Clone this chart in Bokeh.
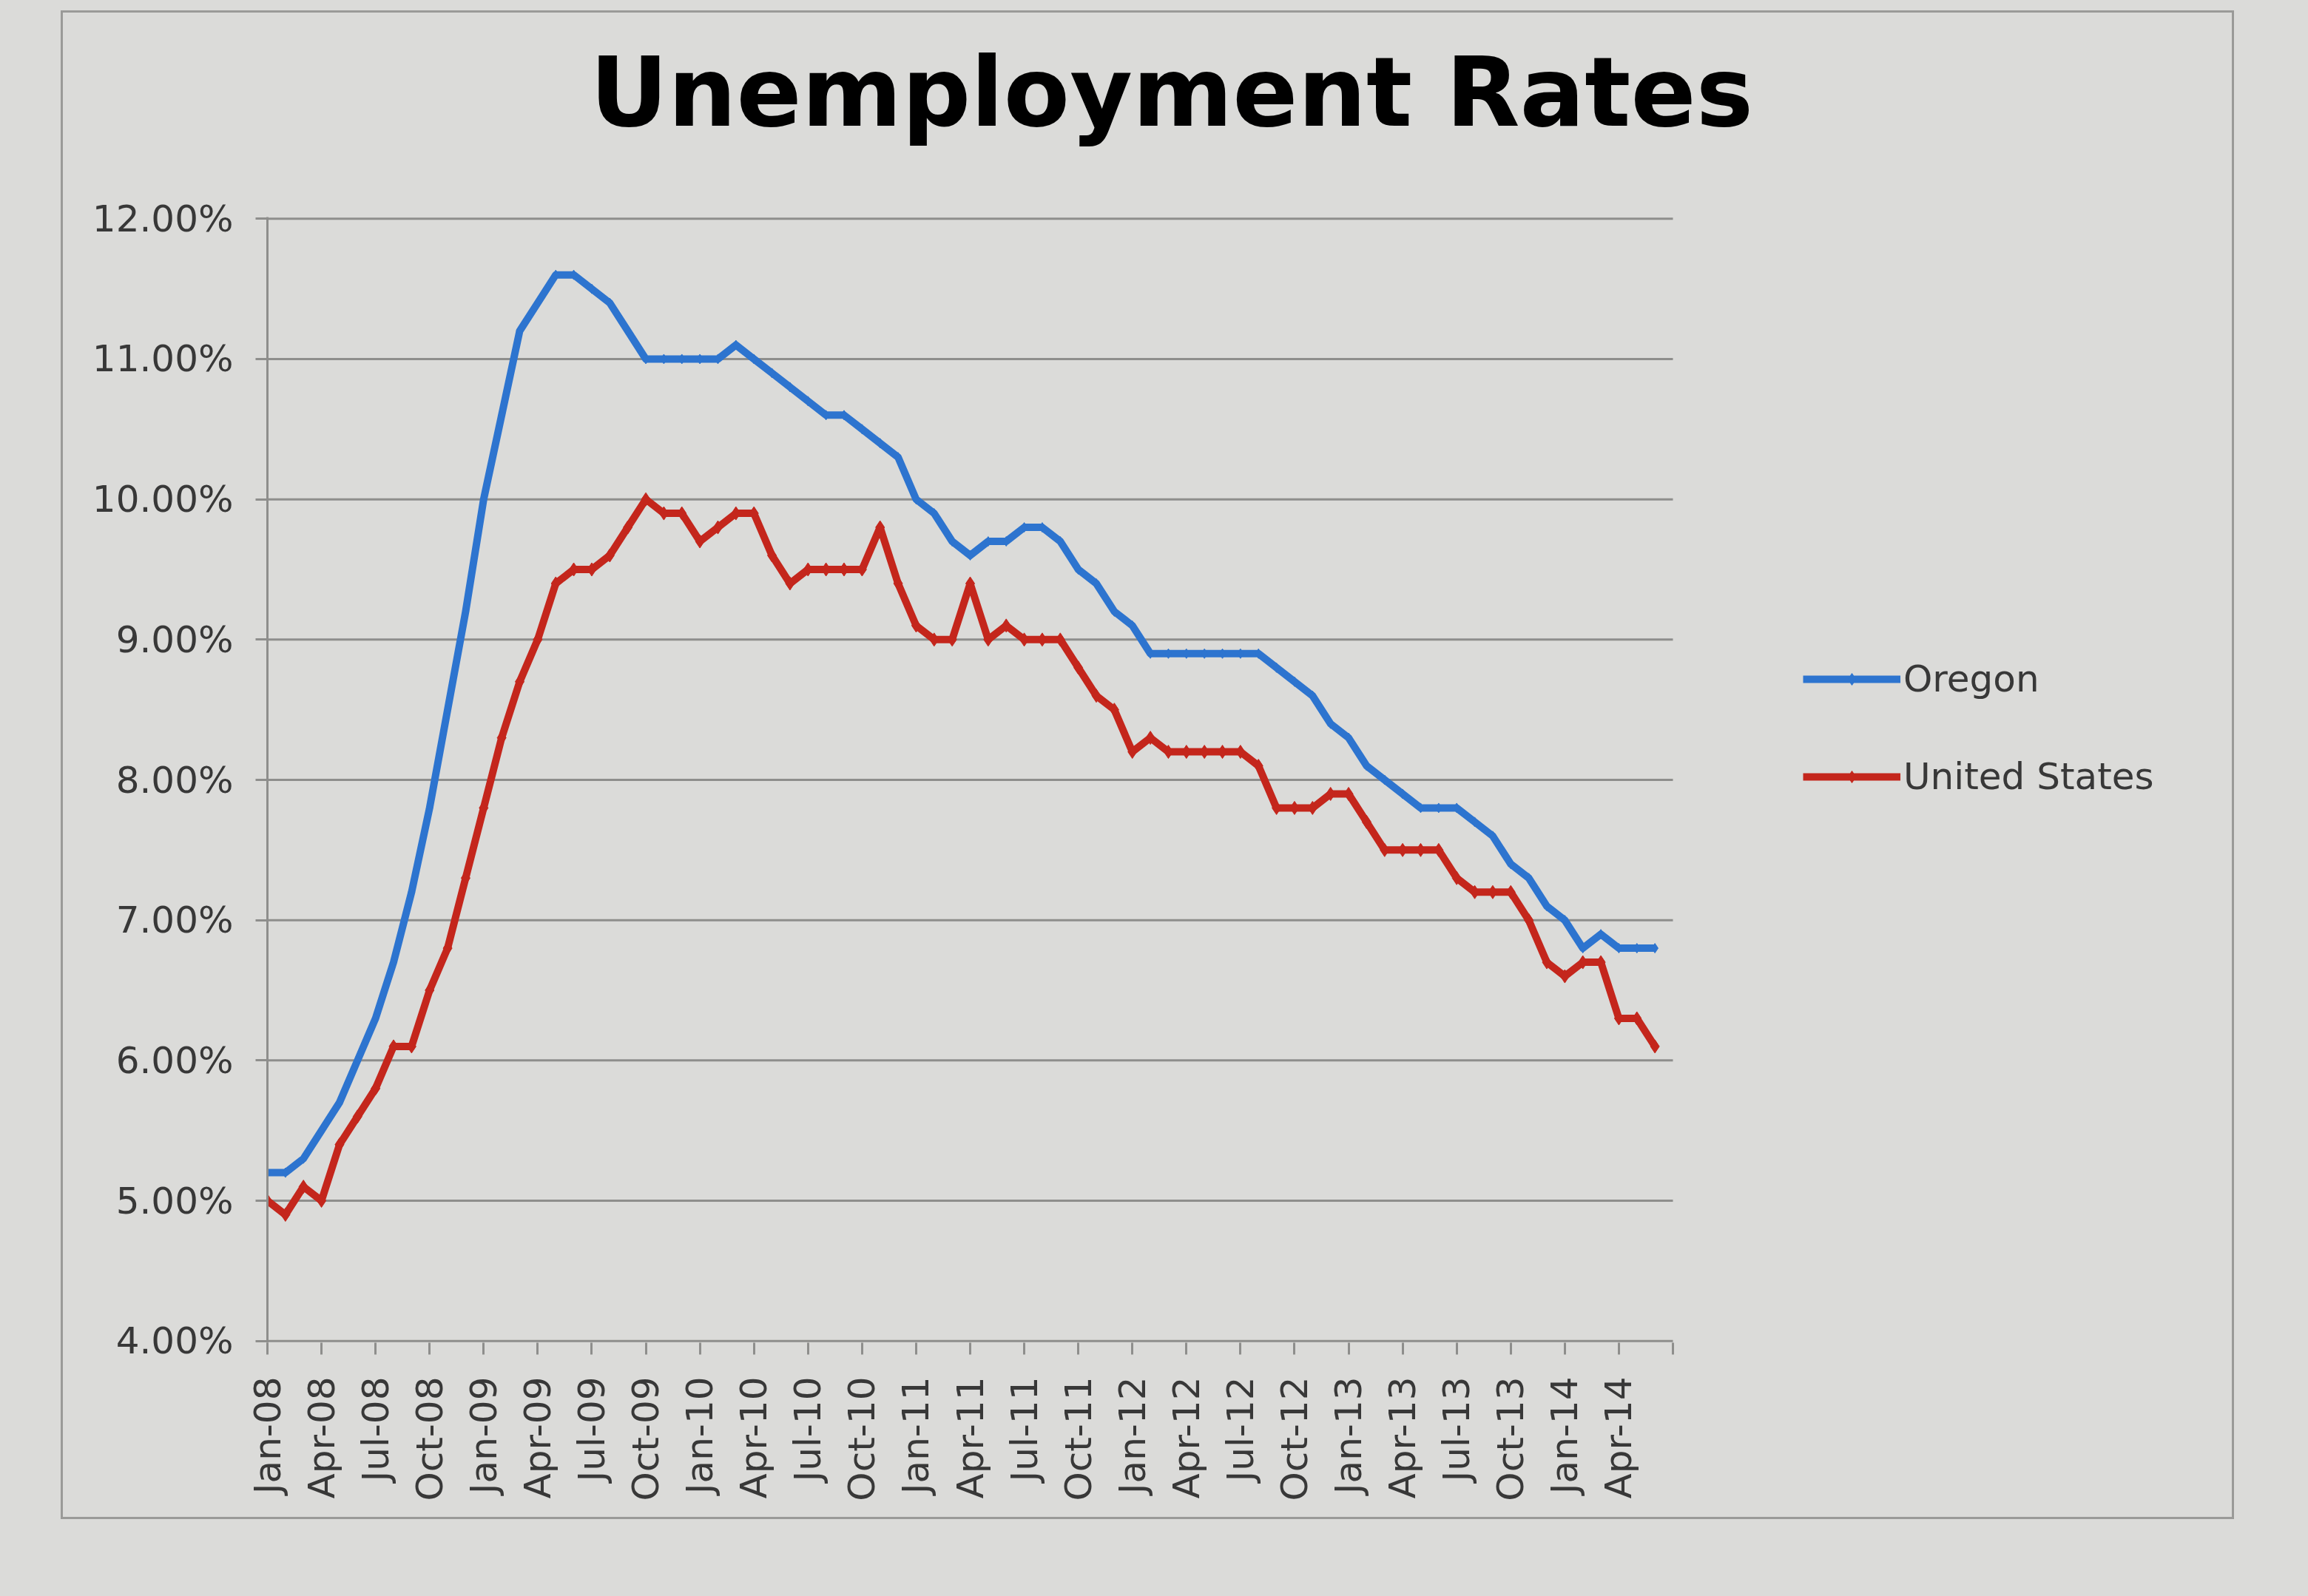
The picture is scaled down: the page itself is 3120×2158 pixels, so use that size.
from bokeh.plotting import figure
from bokeh.models import (FixedTicker, PrintfTickFormatter, Range1d, Legend,
                          LegendItem, Title)
from bokeh.embed import file_html
from bokeh.resources import INLINE

# ---- data (monthly, Jan-08 .. Jun-14), percent ----
oregon = [5.2, 5.2, 5.3, 5.5, 5.7, 6.0, 6.3, 6.7, 7.2, 7.8, 8.5, 9.2,
          10.0, 10.6, 11.2, 11.4, 11.6, 11.6, 11.5, 11.4, 11.2, 11.0, 11.0, 11.0,
          11.0, 11.0, 11.1, 11.0, 10.9, 10.8, 10.7, 10.6, 10.6, 10.5, 10.4, 10.3,
          10.0, 9.9, 9.7, 9.6, 9.7, 9.7, 9.8, 9.8, 9.7, 9.5, 9.4, 9.2,
          9.1, 8.9, 8.9, 8.9, 8.9, 8.9, 8.9, 8.9, 8.8, 8.7, 8.6, 8.4,
          8.3, 8.1, 8.0, 7.9, 7.8, 7.8, 7.8, 7.7, 7.6, 7.4, 7.3, 7.1,
          7.0, 6.8, 6.9, 6.8, 6.8, 6.8]
united_states = [5.0, 4.9, 5.1, 5.0, 5.4, 5.6, 5.8, 6.1, 6.1, 6.5, 6.8, 7.3,
                 7.8, 8.3, 8.7, 9.0, 9.4, 9.5, 9.5, 9.6, 9.8, 10.0, 9.9, 9.9,
                 9.7, 9.8, 9.9, 9.9, 9.6, 9.4, 9.5, 9.5, 9.5, 9.5, 9.8, 9.4,
                 9.1, 9.0, 9.0, 9.4, 9.0, 9.1, 9.0, 9.0, 9.0, 8.8, 8.6, 8.5,
                 8.2, 8.3, 8.2, 8.2, 8.2, 8.2, 8.2, 8.1, 7.8, 7.8, 7.8, 7.9,
                 7.9, 7.7, 7.5, 7.5, 7.5, 7.5, 7.3, 7.2, 7.2, 7.2, 7.0, 6.7,
                 6.6, 6.7, 6.7, 6.3, 6.3, 6.1]
tick_labels = ["Jan-08", "Apr-08", "Jul-08", "Oct-08", "Jan-09", "Apr-09",
               "Jul-09", "Oct-09", "Jan-10", "Apr-10", "Jul-10", "Oct-10",
               "Jan-11", "Apr-11", "Jul-11", "Oct-11", "Jan-12", "Apr-12",
               "Jul-12", "Oct-12", "Jan-13", "Apr-13", "Jul-13", "Oct-13",
               "Jan-14", "Apr-14"]
y_ticks = [4, 5, 6, 7, 8, 9, 10, 11, 12]

x = list(range(len(oregon)))
n_months = len(oregon)  # axis spans to the month after the last point
tick_step = 3
x_ticks = [tick_step * i for i in range(len(tick_labels) + 1)]
overrides = {tick_step * i: lab for i, lab in enumerate(tick_labels)}
overrides[x_ticks[-1]] = ""

PAPER = "#dbdbd9"
GRID = "#8e8e8c"
TEXT = "#383838"
BLUE = "#2d74cf"
RED = "#c4261c"

# ---- layout (pixels) ----
W, H = 2938, 2040
LEFT, RIGHT_PAD, TOP, BOTTOM = 276, 40, 276, 242
AXIS_END_PX = 2176          # where the last month boundary sits on the canvas
x_end = n_months * (W - RIGHT_PAD - LEFT) / (AXIS_END_PX - LEFT)
y_lo, y_hi = y_ticks[0], y_ticks[-1]
pad = 0.012

p = figure(width=W, height=H, x_range=Range1d(0, x_end),
           y_range=Range1d(y_lo - pad, y_hi + pad),
           output_backend="svg", toolbar_location=None,
           min_border_left=LEFT, min_border_right=RIGHT_PAD, min_border_top=TOP,
           min_border_bottom=BOTTOM, title="Unemployment Rates")
p.margin = (14, 0, 0, 82)
p.styles = {"border": "3px solid #9a9a98"}

p.background_fill_color = PAPER
p.border_fill_color = PAPER
p.outline_line_color = None

# title (outer) and a small blank spacer between it and the plot area
p.title.text_font = "DejaVu Sans"
p.title.text_font_style = "bold"
p.title.text_font_size = "130px"
p.title.text_color = "black"
p.title.align = "left"
p.title.offset = 436
p.title.vertical_align = "bottom"
p.title.standoff = 0
spacer = Title(text=" ", text_font_size="10px", standoff=80)
p.add_layout(spacer, "above")

# horizontal gridlines only across the plotted months
p.xgrid.visible = False
p.ygrid.visible = False
p.segment(x0=[0] * len(y_ticks), y0=y_ticks, x1=[n_months] * len(y_ticks), y1=y_ticks,
          line_color=GRID, line_width=3)

# y axis
p.yaxis.ticker = FixedTicker(ticks=y_ticks)
p.yaxis.formatter = PrintfTickFormatter(format="%.2f%%")
p.yaxis.axis_line_color = GRID
p.yaxis.axis_line_width = 3
p.yaxis.major_tick_line_color = GRID
p.yaxis.major_tick_line_width = 3
p.yaxis.major_tick_out = 16
p.yaxis.major_tick_in = 0
p.yaxis.minor_tick_line_color = None
p.yaxis.major_label_text_font = "DejaVu Sans"
p.yaxis.major_label_text_font_size = "50px"
p.yaxis.major_label_text_color = TEXT
p.yaxis.major_label_standoff = 30

# x axis (line drawn only across the months)
p.xaxis.ticker = FixedTicker(ticks=x_ticks)
p.xaxis.major_label_overrides = overrides
p.xaxis.major_label_orientation = 1.5707963
p.xaxis.axis_line_color = None
p.xaxis.major_tick_line_color = GRID
p.xaxis.major_tick_line_width = 3
p.xaxis.major_tick_out = 16
p.xaxis.major_tick_in = 0
p.xaxis.minor_tick_line_color = None
p.xaxis.major_label_text_font = "DejaVu Sans"
p.xaxis.major_label_text_font_size = "50px"
p.xaxis.major_label_text_color = TEXT
p.xaxis.major_label_standoff = 30

# series
l1 = p.line(x, oregon, line_color=BLUE, line_width=10, line_join="round")
s1 = p.scatter(x, oregon, marker="diamond", size=13, fill_color=BLUE, line_color=BLUE)
l2 = p.line(x, united_states, line_color=RED, line_width=10, line_join="round")
s2 = p.scatter(x, united_states, marker="diamond", size=18, fill_color=RED, line_color=RED)

legend = Legend(items=[LegendItem(label="Oregon", renderers=[l1, s1]),
                       LegendItem(label="United States", renderers=[l2, s2])],
                location=(2076, 736))
legend.background_fill_alpha = 0
legend.border_line_alpha = 0
legend.label_text_font = "DejaVu Sans"
legend.label_text_font_size = "50px"
legend.label_text_color = TEXT
legend.glyph_width = 132
legend.glyph_height = 40
legend.label_height = 40
legend.spacing = 74
legend.padding = 0
legend.margin = 0
legend.label_standoff = 4
p.add_layout(legend)

html = file_html(p, INLINE)
page_style = "<style>html, body { background-color: %s !important; }</style>" % PAPER
html = html.replace("</head>", page_style + "</head>", 1)
open("out.html", "w").write(html)
